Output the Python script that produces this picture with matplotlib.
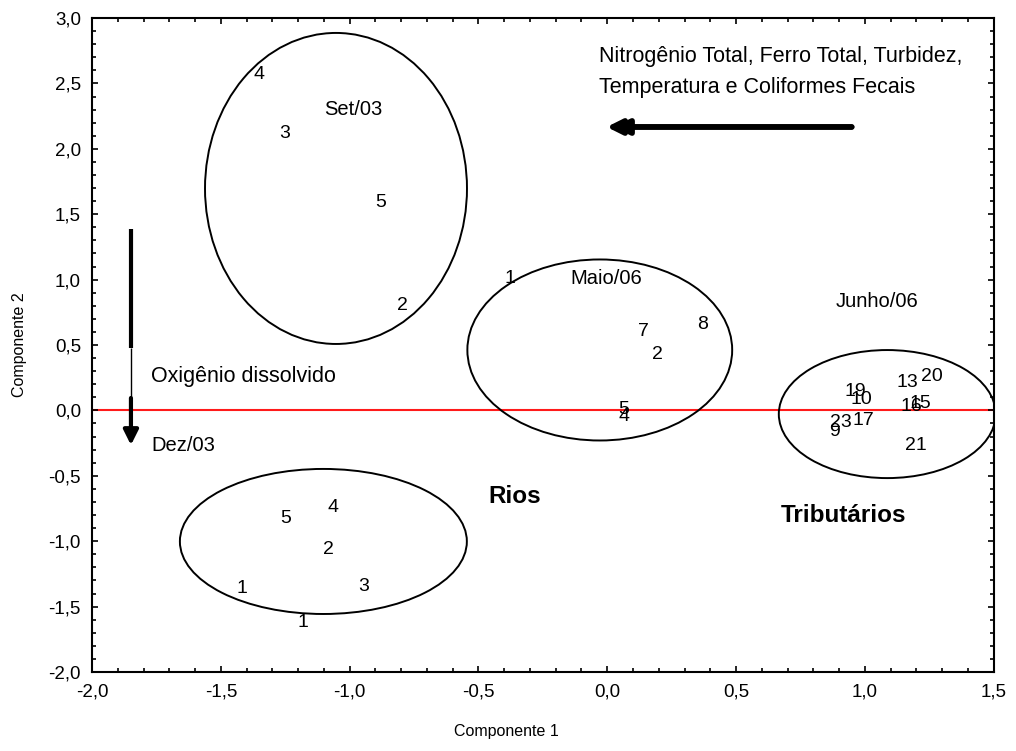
import matplotlib
matplotlib.use("Agg")
import matplotlib.pyplot as plt
from matplotlib.patches import Ellipse
from matplotlib.ticker import MultipleLocator, FuncFormatter

plt.rcParams['font.family'] = ['Liberation Sans', 'DejaVu Sans']

# Set/03 samples
set03_labels = ['4', '3', '5', '2']
set03_x = [-1.352, -1.251, -0.879, -0.797]
set03_y = [2.572, 2.120, 1.590, 0.800]

# Maio/06 samples
maio06_labels = ['1', '7', '8', '2', '5', '4']
maio06_x = [-0.378, 0.142, 0.371, 0.196, 0.064, 0.064]
maio06_y = [1.005, 0.600, 0.653, 0.424, 0.010, -0.043]

# Junho/06 samples (tributaries)
junho06_labels = ['13', '20', '19', '10', '16', '15', '23', '17', '9', '21']
junho06_x = [1.167, 1.260, 0.962, 0.985, 1.179, 1.217, 0.907, 0.996, 0.883, 1.198]
junho06_y = [0.217, 0.263, 0.147, 0.086, 0.033, 0.056, -0.090, -0.075, -0.159, -0.266]

# Dez/03 samples
dez03_labels = ['5', '4', '2', '1', '3', '1']
dez03_x = [-1.247, -1.065, -1.084, -1.418, -0.945, -1.181]
dez03_y = [-0.830, -0.739, -1.060, -1.358, -1.350, -1.618]

# group ellipses: centre x, centre y, width, height
ell_cx = [-1.053, -0.029, 1.087, -1.102]
ell_cy = [1.697, 0.462, -0.028, -1.002]
ell_w = [1.017, 1.028, 0.842, 1.114]
ell_h = [2.378, 1.384, 0.979, 1.109]


def fmt(v, pos):
    return ('%.1f' % v).replace('.', ',')


fig = plt.figure(figsize=(10.16, 7.51), dpi=100)
ax = fig.add_axes([0.0906, 0.1052, 0.8874, 0.8708])
ax.set_xlim(-2.0, 1.5)
ax.set_ylim(-2.0, 3.0)

ax.axhline(0, color='#ff1a1a', lw=1.5, zorder=1)

for cx, cy, w, h in zip(ell_cx, ell_cy, ell_w, ell_h):
    ax.add_patch(Ellipse((cx, cy), w, h, fill=False, ec='black', lw=1.4))

groups = [(set03_labels, set03_x, set03_y), (maio06_labels, maio06_x, maio06_y),
          (junho06_labels, junho06_x, junho06_y), (dez03_labels, dez03_x, dez03_y)]
for labels, xs, ys in groups:
    for lab, x, y in zip(labels, xs, ys):
        ax.text(x, y, lab, ha='center', va='center', fontsize=14)

ax.text(-0.987, 2.304, 'Set/03', ha='center', va='center', fontsize=14.5)
ax.text(-0.005, 1.005, 'Maio/06', ha='center', va='center', fontsize=14.5)
ax.text(1.046, 0.829, 'Junho/06', ha='center', va='center', fontsize=14.5)
ax.text(-1.771, -0.272, 'Dez/03', ha='left', va='center', fontsize=14.5)
ax.text(-0.033, 2.709, 'Nitrogênio Total, Ferro Total, Turbidez,', ha='left', va='center', fontsize=15.5)
ax.text(-0.033, 2.472, 'Temperatura e Coliformes Fecais', ha='left', va='center', fontsize=15.5)
ax.text(-1.771, 0.263, 'Oxigênio dissolvido', ha='left', va='center', fontsize=15.5)
ax.text(-0.359, -0.662, 'Rios', ha='center', va='center', fontsize=17.5, fontweight='bold')
ax.text(0.918, -0.807, 'Tributários', ha='center', va='center', fontsize=17.5, fontweight='bold')

# horizontal arrow (double head look)
for tip in [-0.002, 0.025]:
    ax.annotate('', xy=(tip, 2.167), xytext=(0.949, 2.167),
                arrowprops=dict(arrowstyle='-|>', lw=4, color='black',
                                mutation_scale=22, shrinkA=0, shrinkB=0))

# vertical arrow
ax.plot([-1.849, -1.849], [1.387, 0.477], color='black', lw=3, solid_capstyle='butt')
ax.plot([-1.849, -1.849], [0.477, 0.095], color='black', lw=1, solid_capstyle='butt')
ax.annotate('', xy=(-1.849, -0.265), xytext=(-1.849, 0.095),
            arrowprops=dict(arrowstyle='-|>', lw=3, color='black',
                            mutation_scale=22, shrinkA=0, shrinkB=0))

ax.xaxis.set_major_locator(MultipleLocator(0.5))
ax.xaxis.set_minor_locator(MultipleLocator(0.1))
ax.yaxis.set_major_locator(MultipleLocator(0.5))
ax.yaxis.set_minor_locator(MultipleLocator(0.1))
ax.xaxis.set_major_formatter(FuncFormatter(fmt))
ax.yaxis.set_major_formatter(FuncFormatter(fmt))
ax.tick_params(which='both', direction='in', top=True, right=True, width=1.2)
ax.tick_params(which='major', length=4, labelsize=13.5, pad=8)
ax.tick_params(which='minor', length=3)
for s in ax.spines.values():
    s.set_linewidth(1.5)

ax.set_xlabel('Componente 1', fontsize=11.5)
ax.set_ylabel('Componente 2', fontsize=11.5)
ax.xaxis.set_label_coords(0.46, -0.08)
ax.yaxis.set_label_coords(-0.072, 0.5)

fig.savefig('out.png', dpi=100)
